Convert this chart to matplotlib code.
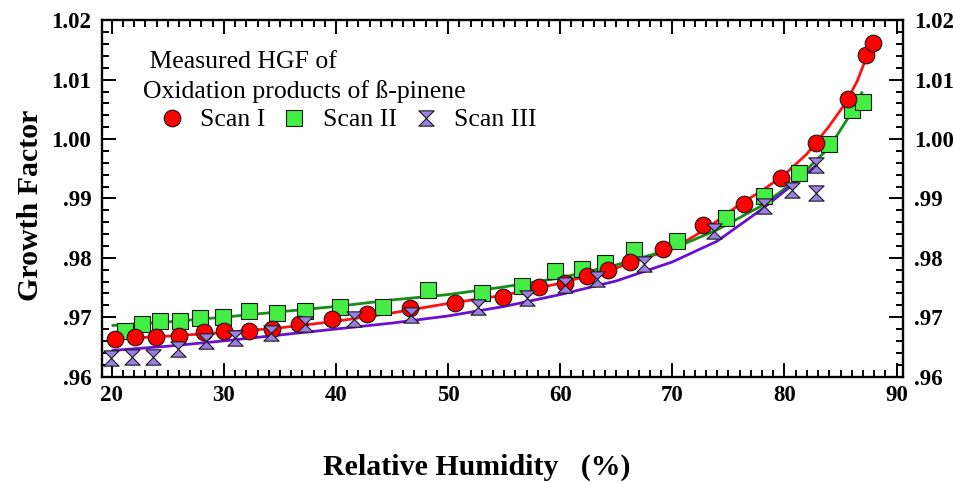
import matplotlib.pyplot as plt
import matplotlib.ticker as mticker
from matplotlib.path import Path

plt.rcParams['font.family'] = ['Liberation Serif', 'DejaVu Serif']
plt.rcParams['font.weight'] = 'bold'

# Scan I (red circles)
scan1X = [20.3, 22.1, 23.9, 26.0, 28.2, 30.0, 32.2, 34.3, 36.7, 39.6, 42.8, 46.6, 50.6, 54.9,
          58.1, 60.4, 62.4, 64.3, 66.2, 69.2, 72.7, 76.4, 79.7, 82.8, 85.7, 87.3, 87.9]
scan1Y = [0.9663, 0.9666, 0.9667, 0.9668, 0.9675, 0.9676, 0.9676, 0.9680, 0.9689, 0.9697, 0.9706,
          0.9716, 0.9723, 0.9734, 0.9751, 0.9758, 0.9769, 0.9779, 0.9793, 0.9814, 0.9856, 0.9891,
          0.9935, 0.9994, 1.0068, 1.0142, 1.0161]

# Scan II (green squares)
scan2X = [21.2, 22.7, 24.3, 26.1, 27.9, 29.9, 32.2, 34.7, 37.2, 40.4, 44.2, 48.2, 53.0, 56.6,
          59.5, 61.9, 64.0, 66.6, 70.4, 74.8, 78.2, 81.3, 84.0, 86.0, 87.0]
scan2Y = [0.9677, 0.9688, 0.9694, 0.9694, 0.9698, 0.9701, 0.9710, 0.9707, 0.9711, 0.9717, 0.9717,
          0.9746, 0.9740, 0.9753, 0.9777, 0.9781, 0.9792, 0.9813, 0.9829, 0.9867, 0.9904, 0.9943,
          0.9991, 1.0049, 1.0063]

# Scan III (purple bowties)
scan3X = [19.9, 21.8, 23.7, 25.9, 28.4, 31.0, 34.2, 37.2, 41.6, 46.7, 52.7, 57.0, 60.4, 63.3,
          67.5, 73.7, 78.2, 80.7, 82.8, 82.8]
scan3Y = [0.9631, 0.9633, 0.9633, 0.9647, 0.9659, 0.9665, 0.9674, 0.9689, 0.9697, 0.9704, 0.9717,
          0.9732, 0.9754, 0.9764, 0.9790, 0.9845, 0.9888, 0.9914, 0.9957, 0.9909]

# fitted curves
fit1X = [20.1, 25, 30, 35, 40, 45, 50, 55, 60, 65, 70, 72, 74, 76, 78, 80, 82, 84, 85.5, 86.5, 87.4]
fit1Y = [0.9663, 0.9668, 0.9674, 0.9682, 0.9693, 0.9707, 0.9723, 0.9737, 0.9757, 0.9783, 0.9815,
         0.9837, 0.9862, 0.9890, 0.9913, 0.9940, 0.9975, 1.0022, 1.0062, 1.0098, 1.0142]
fit2X = [20.1, 25, 30, 35, 40, 45, 50, 55, 60, 65, 70, 74, 78, 81, 84, 86, 86.9]
fit2Y = [0.9686, 0.9692, 0.9700, 0.9709, 0.9718, 0.9729, 0.9738, 0.9751, 0.9766, 0.9788, 0.9815,
         0.9847, 0.9888, 0.9930, 0.9986, 1.0045, 1.0078]
fit3X = [20.1, 25, 30, 35, 40, 45, 50, 55, 60, 65, 70, 74, 78, 80, 82.8]
fit3Y = [0.9644, 0.9651, 0.9660, 0.9670, 0.9680, 0.9690, 0.9702, 0.9718, 0.9738, 0.9761, 0.9793,
         0.9828, 0.9882, 0.9912, 0.9955]

seriesLabels = ['Scan I', 'Scan II', 'Scan III']

figureWidth = 9.54
figureHeight = 4.84
plt.figure(figsize=(figureWidth, figureHeight), dpi=100)
panel1 = plt.axes([101.7/954, 1-376.5/484, 801.6/954, 356.2/484])

# hourglass marker
bowtie = Path([(-1, 1), (1, 1), (-1, -1), (1, -1), (-1, 1)],
              [Path.MOVETO, Path.LINETO, Path.LINETO, Path.LINETO, Path.CLOSEPOLY])

panel1.plot(fit1X, fit1Y, color='#ff1414', linewidth=2.0, zorder=2)
panel1.plot(fit2X, fit2Y, color='#168f16', linewidth=2.0, zorder=2)
panel1.plot(fit3X, fit3Y, color='#6a10d0', linewidth=2.0, zorder=2)

h2, = panel1.plot(scan2X, scan2Y, marker='s', markersize=11, markerfacecolor='#45ee45',
                  markeredgecolor='#1a1a1a', markeredgewidth=0.8, linestyle='none', zorder=3)
h1, = panel1.plot(scan1X, scan1Y, marker='o', markersize=12, markerfacecolor='#ff0000',
                  markeredgecolor='#1a1a1a', markeredgewidth=0.8, linestyle='none', zorder=4)
h3, = panel1.plot(scan3X, scan3Y, marker=bowtie, markersize=11, markerfacecolor='#9c7fe4',
                  markeredgecolor='#1a1a1a', markeredgewidth=0.8, linestyle='none', zorder=5)

# Limits and ticks
panel1.set_xlim(19.1, 90.6)
panel1.set_ylim(0.96, 1.02)
panel1.xaxis.set_major_locator(mticker.MultipleLocator(10))
panel1.xaxis.set_minor_locator(mticker.MultipleLocator(1))
panel1.yaxis.set_major_locator(mticker.MultipleLocator(0.01))
panel1.yaxis.set_minor_locator(mticker.MultipleLocator(0.002))
panel1.yaxis.set_major_formatter(mticker.FuncFormatter(
    lambda v, p: ('%.2f' % v).lstrip('0') if v < 1 else '%.2f' % v))

panel1.tick_params(which='both', direction='in', top=True, right=True,
                   labelright=True, width=1.4)
panel1.tick_params(which='major', length=10, labelsize=16.5)
panel1.tick_params(which='minor', length=5)
panel1.tick_params(axis='x', pad=6)
panel1.tick_params(axis='y', pad=7.5)
for spine in panel1.spines.values():
    spine.set_linewidth(1.7)

panel1.set_xlabel('Relative Humidity   (%)', fontsize=21.5, fontweight='bold', va='center')
panel1.xaxis.set_label_coords(0.468, -0.2555)
panel1.set_ylabel('Growth Factor', fontsize=21.5, fontweight='bold', va='center')
panel1.yaxis.set_label_coords(-0.0894, 0.4815)

# legend heading and entries
panel1.text(0.0515, 0.8653, ' Measured HGF of', transform=panel1.transAxes,
            fontsize=18.5, fontweight='normal', va='baseline', ha='left')
panel1.text(0.0515, 0.7810, 'Oxidation products of ß-pinene', transform=panel1.transAxes,
            fontsize=18.5, fontweight='normal', va='baseline', ha='left')
panel1.legend([h1, h2, h3], seriesLabels, loc='center left', bbox_to_anchor=(0.0515, 0.7201),
              ncol=3, frameon=False, borderpad=0, borderaxespad=0, handlelength=2.23,
              handletextpad=0, columnspacing=0, numpoints=1,
              prop={'size': 18.5, 'weight': 'normal'})

plt.savefig('out.png', dpi=100)
